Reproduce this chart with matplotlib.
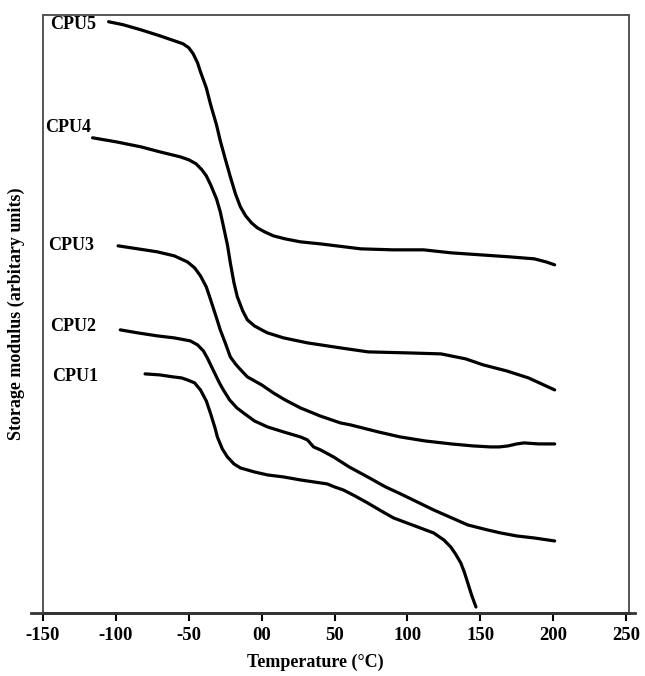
import matplotlib
matplotlib.use('Agg')
import matplotlib.pyplot as plt

plt.rcParams['font.family'] = ['Liberation Serif', 'DejaVu Serif']
plt.rcParams['font.weight'] = 'bold'

# storage modulus curves (arbitrary units)
cpu5_t = [-105, -95, -83, -70, -60, -54, -50, -47, -44, -42, -38, -35, -31, -28.4, -25, -21.5, -18,
          -14.6, -11, -7, -3, 2, 8, 16, 26.6, 40, 68, 90, 111, 130, 150, 170, 187, 195, 201]
cpu5_e = [591, 588, 583, 577, 572, 569, 565, 559, 550, 541, 525, 508, 488, 472, 454, 436, 419,
          406, 397, 390, 385, 381, 377, 374, 371, 369, 364, 363, 363, 360, 358, 356, 354, 351, 348]

cpu4_t = [-116, -100, -83, -70, -56, -50, -45, -41, -38, -35, -31, -28.4, -26, -23.5, -21.5, -19,
          -16.7, -13, -9.8, -5, 0, 4, 15, 31.4, 54, 73, 100, 123, 140, 152, 168, 183, 201]
cpu4_e = [475, 471, 466, 461, 456, 453, 449, 443, 437, 428, 414, 401, 385, 368, 350, 330,
          316, 302, 293, 287, 283, 280, 275, 270, 265, 261, 260, 259, 254, 248, 242, 235, 223]

cpu3_t = [-98.5, -85, -71.6, -60, -51, -46, -42, -38, -35, -31, -28.4, -25, -21.5, -18, -15, -9.8,
          0, 8, 16, 26.6, 40, 54, 61, 80, 95, 112, 130, 145, 157, 163, 169, 175, 180, 190, 201]
cpu3_e = [367, 364, 361, 357, 351, 345, 337, 326, 313, 295, 283, 270, 256, 249, 244, 236,
          228, 220, 213, 205, 197, 190, 188, 181, 176, 172, 169, 167, 166, 166, 167, 169, 170, 169, 169]

cpu2_t = [-97, -85, -71.6, -60, -49, -44, -40, -37.3, -33, -29, -26.3, -22, -17, -12.5, -5, 4,
          15, 26.6, 31.4, 35.6, 40.4, 49.3, 60, 72.7, 85, 95.4, 118, 141.4, 155, 164, 175, 187, 201]
cpu2_e = [283, 280, 277, 275, 272, 268, 262, 255, 242, 230, 223, 213, 205, 200, 192, 186,
          181, 176, 173, 166, 163, 156, 146, 136, 126, 119, 103, 88, 83, 80, 77, 75, 72]

cpu1_t = [-80, -70, -60.7, -55, -51, -46, -42, -38, -35.2, -32, -30.4, -27, -23.5, -19, -14.6, -5,
          4, 15, 26.6, 45, 50, 56, 64, 72.7, 82, 90.5, 107, 118, 125, 129.7, 133, 136.6, 139, 141.4, 144, 147]
cpu1_e = [239, 238, 236, 235, 233, 230, 223, 212, 200, 185, 176, 164, 156, 149, 145, 141,
          138, 136, 133, 129, 126, 123, 117, 110, 102, 95, 86, 80, 73, 66, 59, 50, 41, 30, 18, 6]

series = [(cpu1_t, cpu1_e), (cpu2_t, cpu2_e), (cpu3_t, cpu3_e), (cpu4_t, cpu4_e), (cpu5_t, cpu5_e)]

names = ['CPU1', 'CPU2', 'CPU3', 'CPU4', 'CPU5']
label_x = [-143.8, -145.2, -146.6, -148.6, -145.2]
label_y = [236, 286, 367, 485, 588]

xticks = [-150, -100, -50, 0, 50, 100, 150, 200, 250]
xtick_labels = ['-150', '-100', '-50', '00', '50', '100', '150', '200', '250']

fig = plt.figure(figsize=(6.45, 6.76), dpi=100)
ax = fig.add_axes([0.0667, 0.0932, 0.9085, 0.885])

for t, e in series:
    ax.plot(t, e, color='black', linewidth=2.3, solid_joinstyle='round', solid_capstyle='round')

for name, lx, ly in zip(names, label_x, label_y):
    ax.text(lx, ly, name, ha='left', va='center', fontsize=13, fontweight='bold')

ax.set_xlim(-150, 252)
ax.set_ylim(0, 598)
ax.set_xticks(xticks)
ax.set_xticklabels(xtick_labels, fontsize=13.5, fontweight='bold')
ax.set_yticks([])
ax.tick_params(axis='x', direction='out', length=6, width=1.5, pad=4)

for s in ['left', 'right', 'top']:
    ax.spines[s].set_color('#555555')
    ax.spines[s].set_linewidth(1.4)
ax.spines['bottom'].set_color('#333333')
ax.spines['bottom'].set_linewidth(2)
# axis line runs slightly past both sides, as in the original
ax.plot([-0.02, 1.01], [0, 0], transform=ax.transAxes, color='#333333', linewidth=2, clip_on=False)

ax.set_xlabel('Temperature (°C)', fontsize=13, fontweight='bold')
ax.xaxis.set_label_coords(0.464, -0.068)
ax.set_ylabel('Storage modulus (arbitary units)', fontsize=13, fontweight='bold')
ax.yaxis.set_label_coords(-0.031, 0.5)

fig.savefig('out.png', dpi=100, facecolor='white')
